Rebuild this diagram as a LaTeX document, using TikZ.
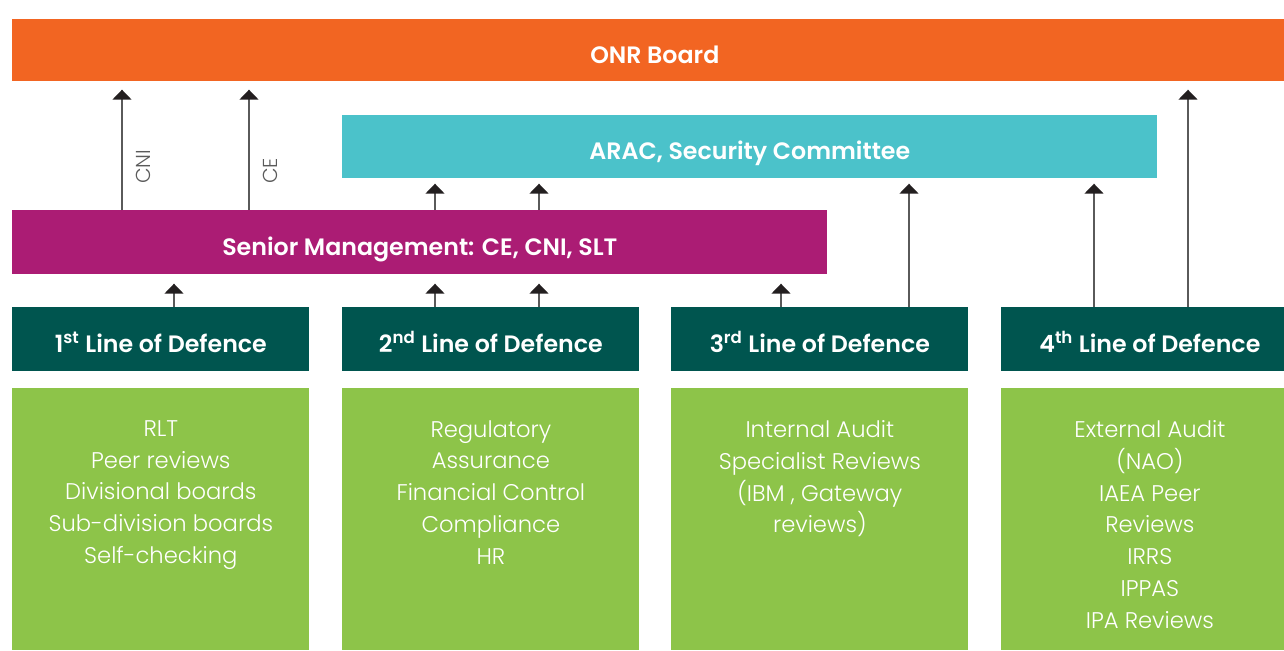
\documentclass[tikz,border=0pt]{standalone}
\usepackage{fontspec}
\setmainfont{Poppins}[UprightFont=* Light, BoldFont=* SemiBold]
\usetikzlibrary{arrows.meta}
\definecolor{onrorange}{HTML}{F26522}
\definecolor{aracblue}{HTML}{4BC2CA}
\definecolor{smpurple}{HTML}{AB1C74}
\definecolor{loddark}{HTML}{00554F}
\definecolor{actgreen}{HTML}{8DC449}
\definecolor{linegray}{HTML}{5A5A5A}
\definecolor{tipblack}{HTML}{231F20}

\begin{document}
\begin{tikzpicture}[x=0.02cm,y=-0.02cm,
  box/.style={anchor=north west,inner sep=0pt,text=white,text height=0.52cm,text depth=0pt,
    font=\bfseries\fontsize{13.5}{16}\selectfont},
  lodbox/.style={box,fill=loddark,minimum width=297*0.02cm,minimum height=64*0.02cm},
  actbox/.style={anchor=north west,inner sep=0pt,fill=actgreen,
    minimum width=297*0.02cm,minimum height=262*0.02cm},
  acttxt/.style={anchor=north,inner sep=0pt,align=center,text=white,
    font=\fontsize{12.9}{18.1}\selectfont},
  up/.style={draw=linegray,line width=0.03cm,
    -{Triangle[width=0.38cm,length=0.2cm,color=tipblack]}},
  sidelbl/.style={rotate=90,anchor=north west,inner sep=0pt,text=linegray,
    font=\fontsize{11.5}{13}\selectfont}]
\useasboundingbox (0,0) rectangle (1284,650);
\clip (0,0) rectangle (1284,650);

% boxes
\node[box,fill=onrorange,minimum width=1285*0.02cm,minimum height=62*0.02cm] (board) at (12,19) {ONR Board};
\node[box,fill=aracblue,minimum width=815*0.02cm,minimum height=63*0.02cm] (arac) at (342,115) {ARAC, Security Committee};
\node[box,fill=smpurple,minimum width=815*0.02cm,minimum height=64*0.02cm] (senior) at (12,210) {Senior Management: CE, CNI, SLT};
\node[lodbox] (lod1) at (12,307) {1\textsuperscript{st} Line of Defence};
\node[lodbox] (lod2) at (342,307) {2\textsuperscript{nd} Line of Defence};
\node[lodbox] (lod3) at (671,307) {3\textsuperscript{rd} Line of Defence};
\node[lodbox] (lod4) at (1001,307) {4\textsuperscript{th} Line of Defence};
\node[actbox] (act1) at (12,388) {};
\node[actbox] (act2) at (342,388) {};
\node[actbox] (act3) at (671,388) {};
\node[actbox] (act4) at (1001,388) {};

% texts of the green boxes
\node[acttxt] (txt1) at ([yshift=-0.64cm]act1.north) {RLT\\Peer reviews\\Divisional boards\\Sub-division boards\\Self-checking};
\node[acttxt] (txt2) at ([yshift=-0.64cm]act2.north) {Regulatory\\Assurance\\Financial Control\\Compliance\\HR};
\node[acttxt] (txt3) at ([yshift=-0.64cm]act3.north) {Internal Audit\\Specialist Reviews\\(IBM , Gateway\\reviews)};
\node[acttxt] (txt4) at ([yshift=-0.64cm]act4.north) {External Audit\\(NAO)\\IAEA Peer\\Reviews\\IRRS\\IPPAS\\IPA Reviews};

% arrows
\draw[up,shorten >=0.16cm] (senior.north -| 122,0) -- (board.south -| 122,0);
\draw[up,shorten >=0.16cm] (senior.north -| 249,0) -- (board.south -| 249,0);
\node[sidelbl] (cni) at (136,184) {CNI};
\node[sidelbl] (ce) at (263,184) {CE};
\draw[up,shorten >=0.1cm] (senior.north -| 435,0) -- (arac.south -| 435,0);
\draw[up,shorten >=0.1cm] (senior.north -| 539,0) -- (arac.south -| 539,0);
\draw[up,shorten >=0.18cm] (lod1.north -| 174,0) -- (senior.south -| 174,0);
\draw[up,shorten >=0.18cm] (lod2.north -| 435,0) -- (senior.south -| 435,0);
\draw[up,shorten >=0.18cm] (lod2.north -| 539,0) -- (senior.south -| 539,0);
\draw[up,shorten >=0.18cm] (lod3.north -| 781,0) -- (senior.south -| 781,0);
\draw[up,shorten >=0.1cm] (lod3.north -| 909,0) -- (arac.south -| 909,0);
\draw[up,shorten >=0.1cm] (lod4.north -| 1094,0) -- (arac.south -| 1094,0);
\draw[up,shorten >=0.16cm] (lod4.north -| 1188,0) -- (board.south -| 1188,0);
\end{tikzpicture}
\end{document}
